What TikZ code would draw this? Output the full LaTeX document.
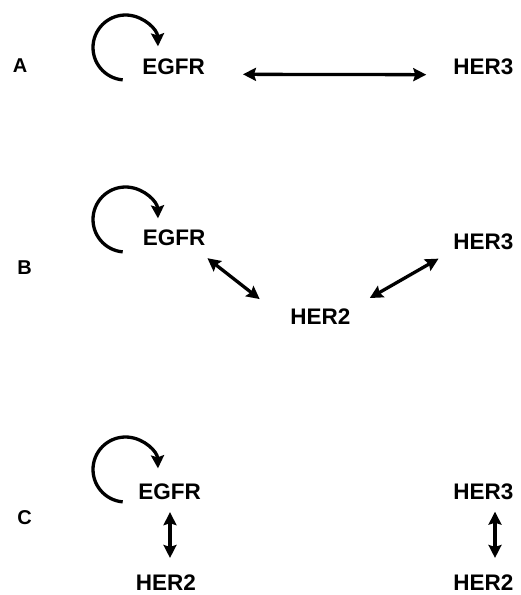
\documentclass[tikz,border=0pt]{standalone}
\usepackage{fontspec}
\setmainfont{Liberation Sans}
\usetikzlibrary{arrows.meta}
\begin{document}
\begin{tikzpicture}[x=1pt,y=-1pt,
  prot/.style={font=\fontsize{22.5}{26}\selectfont\bfseries, inner sep=0pt, anchor=center},
  panel/.style={font=\fontsize{20}{24}\selectfont\bfseries, inner sep=0pt, anchor=center},
  dbl/.style={line width=3.3pt, {Stealth[length=13pt,width=13pt,inset=2pt]}-{Stealth[length=13pt,width=13pt,inset=2pt]}},
  selfloop/.style={line width=3.3pt, -{Stealth[length=13pt,width=13pt,inset=2pt]}}]
\useasboundingbox (0,0) rectangle (520,595);
% Panel A
\node[panel] (labA) at (20,66) {A};
\node[prot] (egfrA) at (173.5,66.5) {EGFR};
\node[prot] (her3A) at (483.5,67) {HER3};
\draw[dbl, shorten <=38pt, shorten >=27pt] (egfrA.base east) -- (her3A.base west);
\coordinate (loopA) at (125.5,47.5);
\draw[selfloop] ([shift={(95:32.5)}]loopA) arc[start angle=95, end angle=358, radius=32.5];
% Panel B
\node[panel] (labB) at (24.5,267.5) {B};
\node[prot] (egfrB) at (174,237.5) {EGFR};
\node[prot] (her3B) at (483.5,242) {HER3};
\node[prot] (her2B) at (320.5,317) {HER2};
\draw[dbl, shorten <=2.5pt, shorten >=16pt] ([yshift=-11pt]egfrB.south east) -- ([xshift=-18pt]her2B.north west);
\draw[dbl, shorten <=17pt, shorten >=22pt] (her3B.south west) -- (her2B.north east);
\coordinate (loopB) at (125.5,219.5);
\draw[selfloop] ([shift={(95:32.5)}]loopB) arc[start angle=95, end angle=358, radius=32.5];
% Panel C
\node[panel] (labC) at (24.5,517.5) {C};
\node[prot] (egfrC) at (169.5,492) {EGFR};
\node[prot] (her2L) at (166,583) {HER2};
\node[prot] (her3C) at (483.5,491.5) {HER3};
\node[prot] (her2R) at (483.5,583) {HER2};
\draw[dbl, shorten <=12pt, shorten >=17pt] ([xshift=0.5pt]egfrC.south) -- ([xshift=4pt]her2L.north);
\draw[dbl, shorten <=12pt, shorten >=17pt] ([xshift=11.5pt]her3C.south) -- ([xshift=11.5pt]her2R.north);
\coordinate (loopC) at (125.5,469.5);
\draw[selfloop] ([shift={(95:32.5)}]loopC) arc[start angle=95, end angle=358, radius=32.5];
\end{tikzpicture}
\end{document}
